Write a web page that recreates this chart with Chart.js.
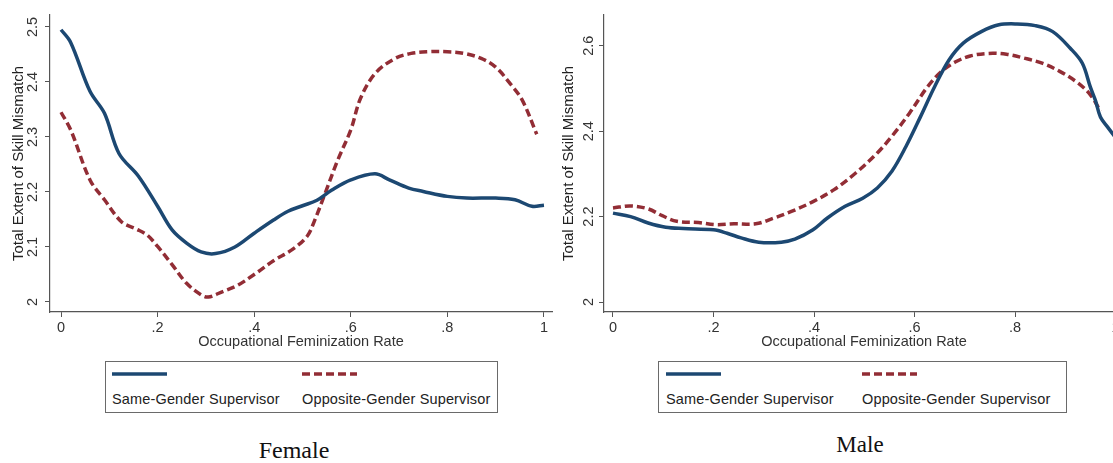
<!DOCTYPE html>
<html><head><meta charset="utf-8">
<script src="https://cdn.jsdelivr.net/npm/chart.js@4.4.1/dist/chart.umd.min.js"></script>
<style>
html,body{margin:0;padding:0;background:#fff;}
body{width:1113px;height:463px;overflow:hidden;position:relative;}
.wrap{position:absolute;top:0;height:355px;}
#w1{left:0;width:555px;}
#w2{left:555px;width:575px;}
.legend{position:absolute;top:361px;height:52px;border:1px solid #6a6a6a;box-sizing:border-box;font-family:"Liberation Sans",Arial,sans-serif;font-size:14.5px;color:#222;}
.lsample{position:absolute;top:9px;}
.ltext{position:absolute;top:29px;line-height:16px;white-space:nowrap;letter-spacing:0.15px;}
.ptitle{position:absolute;width:200px;text-align:center;font-family:"Liberation Serif","Times New Roman",serif;color:#111;white-space:nowrap;}
</style>
</head>
<body>
<div class="wrap" id="w1"><canvas id="c1"></canvas></div>
<div class="wrap" id="w2"><canvas id="c2"></canvas></div>
<div class="legend" id="lg1" style="left:105px;width:393px;"></div>
<div class="legend" id="lg2" style="left:658px;width:409px;"></div>
<div class="ptitle" id="t1" style="left:194px;top:438px;font-size:24px;line-height:24px;"></div>
<div class="ptitle" id="t2" style="left:760px;top:433px;font-size:23px;line-height:23px;"></div>
<script>
// ---- labels ----
const seriesNames = ['Same-Gender Supervisor', 'Opposite-Gender Supervisor'];
const panelTitles = ['Female', 'Male'];
const xAxisTitle = 'Occupational Feminization Rate';
const yAxisTitle = 'Total Extent of Skill Mismatch';
const xTickValues = [0, 0.2, 0.4, 0.6, 0.8, 1];
const xTickLabels = ['0', '.2', '.4', '.6', '.8', '1'];
const femaleYTickValues = [2, 2.1, 2.2, 2.3, 2.4, 2.5];
const femaleYTickLabels = ['2', '2.1', '2.2', '2.3', '2.4', '2.5'];
const maleYTickValues = [2, 2.2, 2.4, 2.6];
const maleYTickLabels = ['2', '2.2', '2.4', '2.6'];

// ---- Female panel data ----
const femaleSameX = [0, .02, .06, .09, .12, .16, .2, .23, .26, .29, .32, .36, .4, .44, .47, .5, .53, .56, .6, .65, .68, .72, .75, .8, .84, .9, .94, .975, 1.0];
const femaleSameY = [2.495, 2.472, 2.383, 2.343, 2.27, 2.229, 2.174, 2.131, 2.107, 2.091, 2.088, 2.1, 2.125, 2.149, 2.165, 2.175, 2.185, 2.203, 2.222, 2.233, 2.222, 2.207, 2.201, 2.192, 2.189, 2.189, 2.186, 2.174, 2.176];
const femaleOppX = [0, .02, .06, .09, .125, .155, .178, .2, .23, .26, .29, .305, .335, .365, .4, .44, .48, .51, .525, .547, .573, .6, .62, .65, .69, .725, .76, .8, .835, .87, .9, .93, .955, .985];
const femaleOppY = [2.345, 2.313, 2.222, 2.186, 2.146, 2.133, 2.122, 2.101, 2.068, 2.034, 2.013, 2.009, 2.019, 2.03, 2.05, 2.075, 2.096, 2.12, 2.148, 2.198, 2.258, 2.313, 2.37, 2.415, 2.442, 2.452, 2.455, 2.455, 2.452, 2.443, 2.427, 2.397, 2.367, 2.305];

// ---- Male panel data ----
const maleSameX = [0, .035, .07, .105, .14, .2, .227, .255, .29, .335, .362, .398, .426, .462, .497, .526, .555, .583, .612, .64, .669, .697, .733, .768, .804, .84, .875, .91, .934, .95, .96, .97, .984, 1.0];
const maleSameY = [2.208, 2.2, 2.185, 2.175, 2.172, 2.169, 2.161, 2.15, 2.14, 2.14, 2.147, 2.169, 2.196, 2.224, 2.243, 2.267, 2.306, 2.364, 2.434, 2.504, 2.567, 2.606, 2.633, 2.649, 2.651, 2.647, 2.633, 2.594, 2.559, 2.503, 2.472, 2.433, 2.41, 2.385];
const maleOppX = [0, .034, .07, .098, .127, .17, .205, .241, .284, .319, .355, .398, .44, .483, .526, .555, .59, .626, .654, .683, .711, .747, .783, .818, .854, .889, .925, .95, .97];
const maleOppY = [2.22, 2.225, 2.218, 2.202, 2.189, 2.186, 2.181, 2.183, 2.183, 2.196, 2.212, 2.235, 2.263, 2.302, 2.349, 2.388, 2.442, 2.504, 2.54, 2.563, 2.576, 2.582, 2.58, 2.571, 2.559, 2.54, 2.513, 2.485, 2.447];

const BLUE = '#1c4872';
const RED = '#922d35';
const AXIS = '#555';
const FONT = '"Liberation Sans", Arial, sans-serif';
const DASH = [8, 4];

function pts(xs, ys) { return xs.map((x, i) => ({ x: x, y: ys[i] })); }

function build(id, o) {
  return new Chart(document.getElementById(id), {
    type: 'line',
    data: {
      datasets: [
        { label: seriesNames[0], data: pts(o.sameX, o.sameY), borderColor: BLUE, borderWidth: 3.5,
          pointRadius: 0, tension: 0.35, fill: false, borderCapStyle: 'butt', borderJoinStyle: 'round' },
        { label: seriesNames[1], data: pts(o.oppX, o.oppY), borderColor: RED, borderWidth: 3.5, borderDash: DASH,
          pointRadius: 0, tension: 0.35, fill: false, borderCapStyle: 'butt', borderJoinStyle: 'round' }
      ]
    },
    options: {
      responsive: true, maintainAspectRatio: false, animation: false,
      layout: { padding: { top: 15, right: o.padRight, left: 0, bottom: 0 } },
      plugins: { legend: { display: false }, tooltip: { enabled: false } },
      scales: {
        x: {
          type: 'linear', min: o.xMin, max: o.xMax,
          afterBuildTicks: s => { s.ticks = xTickValues.map(v => ({ value: v })); },
          afterFit: s => { s.height = 43; },
          ticks: { callback: (v, i) => xTickLabels[i], color: '#333', font: { family: FONT, size: 14.5 },
                   padding: 2, maxRotation: 0, autoSkip: false },
          grid: { drawOnChartArea: false, drawTicks: true, tickLength: 5, color: AXIS, lineWidth: 1 },
          border: { display: true, color: AXIS, width: 1.2 },
          title: { display: true, text: xAxisTitle, color: '#333', font: { family: FONT, size: 14.5 },
                   padding: { top: 0, bottom: 4 } }
        },
        y: {
          type: 'linear', min: o.yMin, max: o.yMax,
          afterBuildTicks: s => { s.ticks = o.yTicks.map(v => ({ value: v })); },
          afterFit: s => { s.width = o.yWidth; },
          ticks: { callback: (v, i) => o.yLabels[i], color: '#333', font: { family: FONT, size: 14.5 },
                   padding: o.yTickPad, minRotation: 90, maxRotation: 90, crossAlign: 'center', autoSkip: false },
          grid: { drawOnChartArea: false, drawTicks: true, tickLength: 5, color: AXIS, lineWidth: 1 },
          border: { display: true, color: AXIS, width: 1.2 },
          title: { display: true, text: yAxisTitle, color: '#222', font: { family: FONT, size: 15 },
                   padding: { top: o.yTitlePad, bottom: 0 } }
        }
      }
    }
  });
}

const ch1 = build('c1', {
  sameX: femaleSameX, sameY: femaleSameY, oppX: femaleOppX, oppY: femaleOppY,
  xMin: -0.0228, xMax: 1.0166, yMin: 1.9818, yMax: 2.5218,
  yTicks: femaleYTickValues, yLabels: femaleYTickLabels,
  yWidth: 50, yTickPad: 2, yTitlePad: 10, padRight: 3
});
const ch2 = build('c2', {
  sameX: maleSameX, sameY: maleSameY, oppX: maleOppX, oppY: maleOppY,
  xMin: -0.0179, xMax: 1.0169, yMin: 1.9766, yMax: 2.6719,
  yTicks: maleYTickValues, yLabels: maleYTickLabels,
  yWidth: 49, yTickPad: 0, yTitlePad: 5, padRight: 6
});

function legendFor(chart, el, cols) {
  chart.data.datasets.forEach((ds, i) => {
    const s = document.createElementNS('http://www.w3.org/2000/svg', 'svg');
    s.setAttribute('width', '56'); s.setAttribute('height', '6');
    s.setAttribute('class', 'lsample');
    s.style.left = cols[i] + 'px';
    const ln = document.createElementNS('http://www.w3.org/2000/svg', 'line');
    ln.setAttribute('x1', '0'); ln.setAttribute('y1', '3'); ln.setAttribute('x2', '55'); ln.setAttribute('y2', '3');
    ln.setAttribute('stroke', ds.borderColor); ln.setAttribute('stroke-width', '3.5');
    if (ds.borderDash) ln.setAttribute('stroke-dasharray', ds.borderDash.join(' '));
    s.appendChild(ln);
    el.appendChild(s);
    const t = document.createElement('div');
    t.className = 'ltext'; t.style.left = cols[i] + 'px'; t.textContent = ds.label;
    el.appendChild(t);
  });
}
legendFor(ch1, document.getElementById('lg1'), [6, 196]);
legendFor(ch2, document.getElementById('lg2'), [7, 203]);
document.getElementById('t1').textContent = panelTitles[0];
document.getElementById('t2').textContent = panelTitles[1];
</script>
</body></html>
